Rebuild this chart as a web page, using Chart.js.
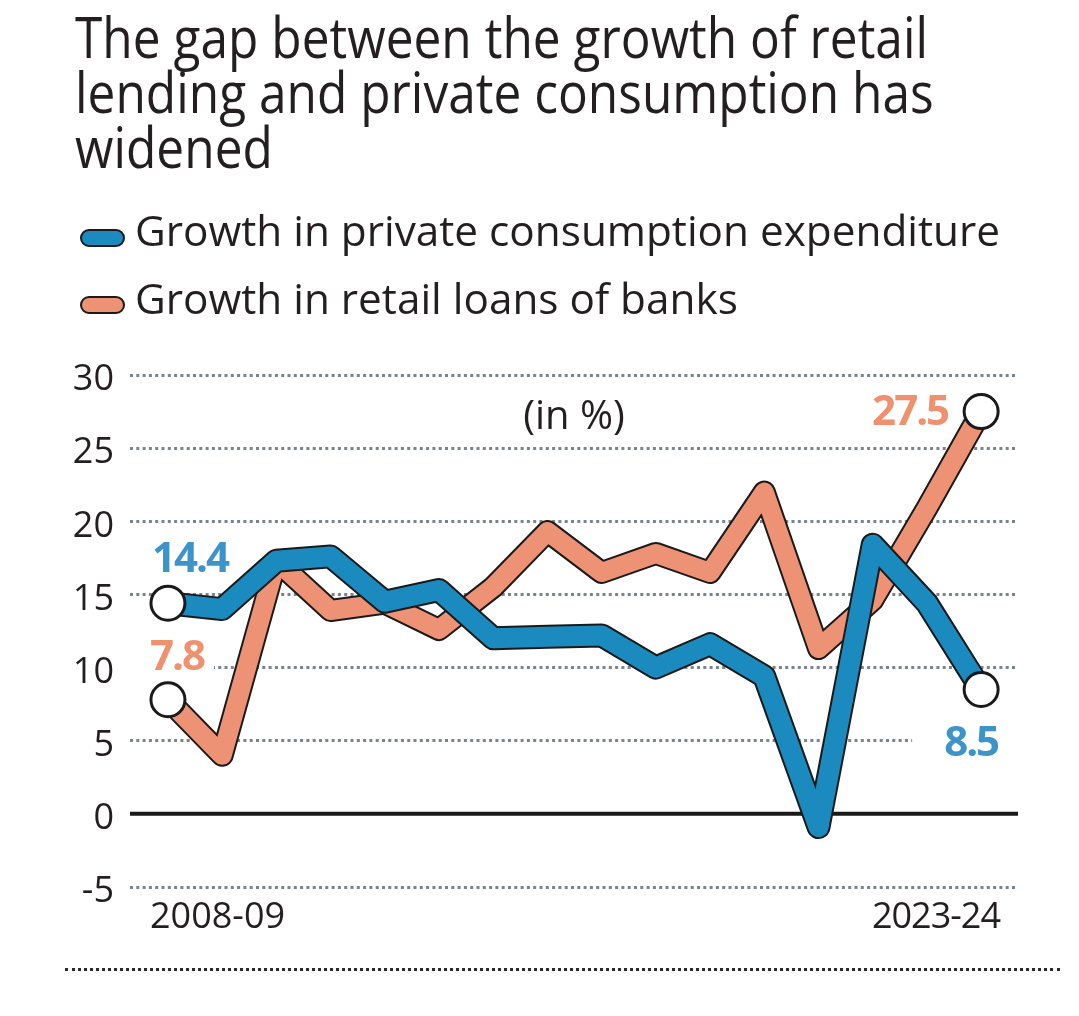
<!DOCTYPE html>
<html>
<head>
<meta charset="utf-8">
<script src="https://cdn.jsdelivr.net/npm/chart.js@4.4.1/dist/chart.umd.min.js"></script>
<style>
  body { margin: 0; background: #fff; }
  #wrap { position: relative; width: 1079px; height: 1016px; overflow: hidden; font-family: "Open Sans", sans-serif; color: #231f20; }
  #chart { position: absolute; left: 0; top: 0; }
  #title { position: absolute; left: 75px; top: 9px; font-size: 56px; line-height: 55px; white-space: nowrap; transform-origin: 0 0; }
  .key { position: absolute; left: 80px; width: 41px; height: 14px; border: 2px solid #1a1a1a; border-radius: 10px; }
  .keytext { position: absolute; left: 135px; font-size: 42px; line-height: 67px; white-space: nowrap; transform-origin: 0 0; }
  #rule { position: absolute; left: 65px; top: 968px; width: 995px; border-top: 3px dotted #2a2a2a; }
</style>
</head>
<body>
<div id="wrap">
  <canvas id="chart" width="1079" height="1016"></canvas>
  <div id="title"><span id="t1">The gap between the growth of retail</span><br>lending and private consumption has<br>widened</div>
  <div class="key" style="top:229px; background:#1b8bbf"></div>
  <div class="keytext" id="k1" style="top:196px">Growth in private consumption expenditure</div>
  <div class="key" style="top:296px; background:#ee9276"></div>
  <div class="keytext" id="k2" style="top:264px">Growth in retail loans of banks</div>
  <div id="rule"></div>
</div>
<script>
// years 2008-09 .. 2023-24
const years = ['2008-09', '2009-10', '2010-11', '2011-12', '2012-13', '2013-14', '2014-15', '2015-16',
               '2016-17', '2017-18', '2018-19', '2019-20', '2020-21', '2021-22', '2022-23', '2023-24'];
// growth in private consumption expenditure (%)
const consumption = [14.4, 14.0, 17.3, 17.6, 14.5, 15.3, 12.0, 12.1, 12.2, 10.0, 11.6, 9.4, -0.9, 18.4, 14.4, 8.5];
// growth in retail loans of banks (%)
const retailLoans = [7.8, 4.0, 17.3, 13.9, 14.4, 12.6, 15.5, 19.3, 16.5, 17.8, 16.5, 22.0, 11.3, 14.6, 20.9, 27.5];
const yTicks = [-5, 0, 5, 10, 15, 20, 25, 30];

const BLUE = '#1b8bbf';
const ORANGE = '#ee9276';
const INK = '#231f20';

// squeeze the title so its first line spans the same width as the original
function fitTitle() {
    const t = document.getElementById('title');
    const w = document.getElementById('t1').getBoundingClientRect().width;
    t.style.transform = 'scaleX(' + (853 / w) + ')';
    const k = document.getElementById('k1');
    const kw = k.getBoundingClientRect().width;
    const s = 865 / kw;
    k.style.transform = 'scaleX(' + s + ')';
    document.getElementById('k2').style.transform = 'scaleX(' + s + ')';
}

function points(vals) {
    return vals.map((v, i) => ({ x: i, y: v }));
}

const last = years.length - 1;
const endRadius = ctx => (ctx.dataIndex === 0 || ctx.dataIndex === last) ? 17 : 0;

// zero line, value labels, (in %) and end year labels
const extras = {
    id: 'extras',
    beforeDatasetsDraw(chart) {
        const { ctx, chartArea, scales } = chart;
        const x = scales.x, y = scales.y;
        ctx.save();
        // solid zero line
        ctx.strokeStyle = '#1a1a1a';
        ctx.lineWidth = 4;
        ctx.beginPath();
        ctx.moveTo(chartArea.left, y.getPixelForValue(0));
        ctx.lineTo(chartArea.right, y.getPixelForValue(0));
        ctx.stroke();

        // value labels at the ends
        const labels = [
            { vals: consumption, i: 0, color: '#3d94c9', dx: -16, dy: -31, align: 'left', padL: 20, padR: 10 },
            { vals: retailLoans, i: 0, color: '#ef906f', dx: -18, dy: -30, align: 'left', padL: 20, padR: 10 },
            { vals: retailLoans, i: last, color: '#ef906f', dx: -33, dy: 13, align: 'right', padL: 10, padR: 10 },
            { vals: consumption, i: last, color: '#3d94c9', dx: 17, dy: 66, align: 'right', padL: 32, padR: 30 }
        ];
        ctx.font = 'bold 42px "Open Sans"';
        ctx.letterSpacing = '-2px';
        ctx.textBaseline = 'alphabetic';
        labels.forEach(l => {
            const text = l.vals[l.i].toFixed(1);
            const px = x.getPixelForValue(l.i) + l.dx;
            const py = y.getPixelForValue(l.vals[l.i]) + l.dy;
            const w = ctx.measureText(text).width;
            const left = l.align === 'left' ? px : px - w;
            ctx.fillStyle = '#fff';
            ctx.fillRect(left - l.padL, py - 34, w + l.padL + l.padR, 40);
            ctx.fillStyle = l.color;
            ctx.textAlign = l.align;
            ctx.fillText(text, px, py);
        });
        ctx.letterSpacing = '0px';

        // unit note
        ctx.fillStyle = INK;
        ctx.font = '40px "Open Sans"';
        ctx.textAlign = 'center';
        ctx.fillText('(in %)', (chartArea.left + chartArea.right) / 2, chartArea.top + 54);

        // first and last year
        ctx.font = '36px "Open Sans"';
        ctx.textAlign = 'left';
        ctx.fillText(years[0], chartArea.left + 20, chartArea.bottom + 41);
        ctx.letterSpacing = '-1px';
        ctx.textAlign = 'right';
        ctx.fillText(years[last], chartArea.right - 18, chartArea.bottom + 41);
        ctx.restore();
    }
};

function draw() {
    fitTitle();
    new Chart(document.getElementById('chart').getContext('2d'), {
        type: 'line',
        data: {
            datasets: [
                {
                    label: 'Growth in private consumption expenditure',
                    data: points(consumption),
                    borderColor: BLUE,
                    borderWidth: 20,
                    borderJoinStyle: 'round',
                    borderCapStyle: 'round',
                    pointRadius: endRadius,
                    pointBackgroundColor: '#fff',
                    pointBorderColor: '#1a1a1a',
                    pointBorderWidth: 3,
                    order: 0
                },
                {
                    label: 'outline-blue',
                    data: points(consumption),
                    borderColor: '#1a1a1a',
                    borderWidth: 24,
                    borderJoinStyle: 'round',
                    borderCapStyle: 'round',
                    pointRadius: 0,
                    order: 1
                },
                {
                    label: 'Growth in retail loans of banks',
                    data: points(retailLoans),
                    borderColor: ORANGE,
                    borderWidth: 19,
                    borderJoinStyle: 'round',
                    borderCapStyle: 'round',
                    pointRadius: endRadius,
                    pointBackgroundColor: '#fff',
                    pointBorderColor: '#1a1a1a',
                    pointBorderWidth: 3,
                    order: 2
                },
                {
                    label: 'outline-orange',
                    data: points(retailLoans),
                    borderColor: '#1a1a1a',
                    borderWidth: 23,
                    borderJoinStyle: 'round',
                    borderCapStyle: 'round',
                    pointRadius: 0,
                    order: 3
                }
            ]
        },
        options: {
            responsive: false,
            animation: false,
            layout: { padding: { left: 0, right: 61, top: 375, bottom: 129 } },
            plugins: {
                legend: { display: false },
                tooltip: { enabled: false }
            },
            scales: {
                x: {
                    type: 'linear',
                    min: -0.7,
                    max: last + 0.68,
                    display: false
                },
                y: {
                    min: -5,
                    max: 30,
                    afterFit: s => { s.width = 130; },
                    afterBuildTicks: s => { s.ticks = yTicks.map(v => ({ value: v })); },
                    border: { display: false, dash: [3, 3.3] },
                    grid: {
                        drawTicks: false,
                        lineWidth: 3,
                        color: c => c.tick && c.tick.value === 0 ? 'rgba(0,0,0,0)' : '#7b8589'
                    },
                    ticks: {
                        color: INK,
                        padding: 16,
                        labelOffset: 5,
                        font: { family: '"Open Sans"', size: 36 }
                    }
                }
            }
        },
        plugins: [extras]
    });
}

document.fonts.load('40px "Open Sans"').then(() => document.fonts.load('bold 42px "Open Sans"')).then(draw, draw);
</script>
</body>
</html>
